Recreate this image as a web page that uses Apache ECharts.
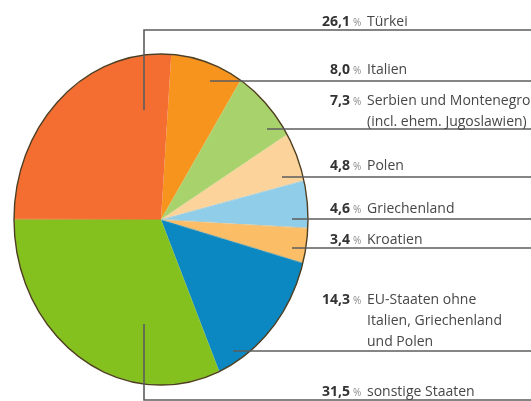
<!DOCTYPE html>
<html><head><meta charset="utf-8">
<script src="https://cdn.jsdelivr.net/npm/echarts@6/dist/echarts.min.js"></script>
<style>
html,body{margin:0;padding:0;background:#fff;overflow:hidden;width:531px;height:401px;}
#pie{position:absolute;left:0;top:0;width:531px;height:356px;transform:scaleY(1.126);transform-origin:0 0;}
#ann{position:absolute;left:0;top:0;width:531px;height:401px;}
</style></head><body>
<div id="pie"></div><div id="ann"></div>
<script>
// ---- data ----
const categories = [
  'Italien',
  'Serbien und Montenegro\n(incl. ehem. Jugoslawien)',
  'Polen',
  'Griechenland',
  'Kroatien',
  'EU-Staaten ohne\nItalien, Griechenland\nund Polen',
  'sonstige Staaten',
  'Türkei'
];
const values = [8.0, 7.3, 4.8, 4.6, 3.4, 14.3, 31.5, 26.1];

// ---- styles ----
const colors = ['#f7941d', '#a8d26c', '#fbd39b', '#8fcde8', '#fbbd66', '#0b88c1', '#84c11f', '#f46d31'];
// annotation layout: label centre y, leader line y, leader start x, optional vertical start y
const annTextY  = [70, 101, 166, 209, 240, 300, 392, 22];
const annLineY  = [81, 129, 177, 219, 248, 351, 400, 30];
const annStartX = [210, 267, 282, 292, 292, 233, 144, 144];
const annStartY = [null, null, null, null, null, null, 324, 110];

const SCALE_Y = 1.126;
const CX = 161, CY = 219.5, R = 147;

const pie = echarts.init(document.getElementById('pie'), null, {renderer: 'canvas'});
pie.setOption({
  animation: false,
  series: [{
    type: 'pie',
    center: [CX, CY / SCALE_Y],
    radius: R,
    startAngle: 86,
    clockwise: true,
    silent: true,
    label: {show: false},
    labelLine: {show: false},
    itemStyle: {borderWidth: 0},
    data: categories.map((c, i) => ({name: c, value: values[i], itemStyle: {color: colors[i]}}))
  }]
});

const fmt = v => v.toFixed(1).replace('.', ',');
const FONT = '"Open Sans", "Noto Sans", sans-serif';
const elements = [{
  type: 'ellipse',
  shape: {cx: CX, cy: CY, rx: R, ry: R * SCALE_Y},
  style: {fill: null, stroke: '#4f3f22', lineWidth: 1.4},
  z: 1
}];
categories.forEach((c, i) => {
  const pts = [];
  if (annStartY[i] != null) pts.push([annStartX[i], annStartY[i]]);
  pts.push([annStartX[i], annLineY[i]]);
  pts.push([531, annLineY[i]]);
  elements.push({
    type: 'polyline', shape: {points: pts},
    style: {stroke: '#5c5c5c', lineWidth: 1.6, fill: null}, z: 2
  });
  elements.push({
    type: 'text', x: 350, y: annTextY[i],
    style: {text: fmt(values[i]), font: 'bold 14px ' + FONT, fill: '#333', align: 'right', verticalAlign: 'middle'}, z: 3
  });
  elements.push({
    type: 'text', x: 353, y: annTextY[i] + 1,
    style: {text: '%', font: '10px ' + FONT, fill: '#8a8a8a', align: 'left', verticalAlign: 'middle'}, z: 3
  });
  elements.push({
    type: 'text', x: 367, y: annTextY[i] - 10.5,
    style: {text: c, font: '14px ' + FONT, fill: '#474747', align: 'left', verticalAlign: 'top', lineHeight: 21}, z: 3
  });
});

const ann = echarts.init(document.getElementById('ann'), null, {renderer: 'canvas'});
ann.setOption({animation: false, graphic: {elements: elements}});
</script>
</body></html>
